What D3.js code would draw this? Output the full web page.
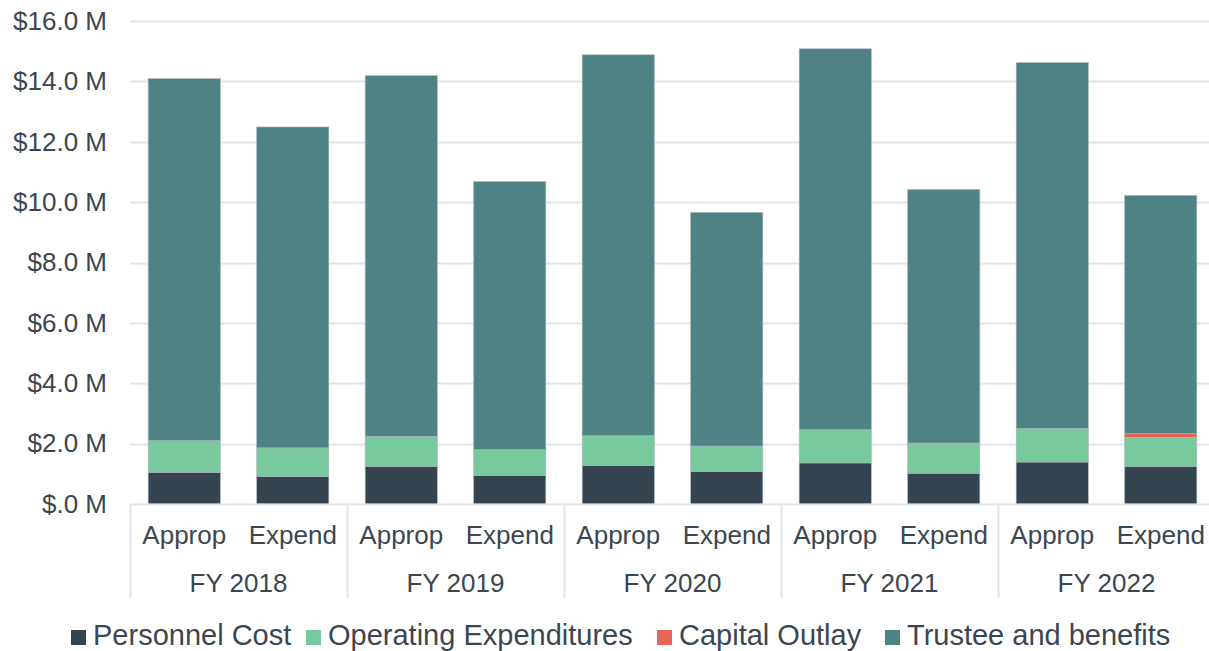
<!DOCTYPE html>
<html>
<head>
<meta charset="utf-8">
<script src="https://cdn.jsdelivr.net/npm/d3@7"></script>
<style>
  body { margin: 0; background: #ffffff; }
  svg { display: block; font-family: "Liberation Sans", Arial, sans-serif; }
</style>
</head>
<body>
<div id="chart"></div>
<script>
// Data (values in $ millions)
const years = ['FY 2018', 'FY 2019', 'FY 2020', 'FY 2021', 'FY 2022'];
const kinds = ['Approp', 'Expend'];
const seriesNames = ['Personnel Cost', 'Operating Expenditures', 'Capital Outlay', 'Trustee and benefits'];

// order: FY2018 Approp, FY2018 Expend, FY2019 Approp, ...
const personnel = [1.05, 0.91, 1.25, 0.95, 1.28, 1.08, 1.36, 1.02, 1.39, 1.25];
const operating = [1.05, 0.95, 0.97, 0.85, 0.98, 0.84, 1.10, 0.97, 1.11, 0.96];
const capital   = [0.00, 0.00, 0.02, 0.00, 0.00, 0.00, 0.00, 0.03, 0.00, 0.12];
const trustee   = [11.99, 10.63, 11.95, 8.88, 12.62, 7.74, 12.62, 8.40, 12.12, 7.89];

const yTicks = [0, 2, 4, 6, 8, 10, 12, 14, 16];

const colors = {
    'Personnel Cost': '#36444f',
    'Operating Expenditures': '#78c99d',
    'Capital Outlay': '#e8645a',
    'Trustee and benefits': '#4f8282'
};
const textColor = '#3b4651';
const gridColor = '#dfe5ea';

// build table
const rows = [];
years.forEach((yr, i) => {
    kinds.forEach((k, j) => {
        const idx = i * 2 + j;
        rows.push({
            year: yr,
            kind: k,
            'Personnel Cost': personnel[idx],
            'Operating Expenditures': operating[idx],
            'Capital Outlay': capital[idx],
            'Trustee and benefits': trustee[idx]
        });
    });
});

const width = 1209, height = 651;
const plot = { left: 130, right: 1215, top: 21, bottom: 504 };

const svg = d3.select('#chart').append('svg')
    .attr('width', width)
    .attr('height', height);

const x0 = d3.scaleBand()
    .domain(years)
    .range([plot.left, plot.right]);

const x1 = d3.scaleBand()
    .domain(kinds)
    .range([0, x0.bandwidth()])
    .paddingInner(0.335)
    .paddingOuter(0.1675);

const y = d3.scaleLinear()
    .domain([0, 16])
    .range([plot.bottom, plot.top]);

// grid lines
svg.append('g')
    .selectAll('line')
    .data(yTicks.filter(d => d > 0))
    .enter().append('line')
    .attr('x1', plot.left)
    .attr('x2', width)
    .attr('y1', d => Math.round(y(d)) + 0.5)
    .attr('y2', d => Math.round(y(d)) + 0.5)
    .style('stroke', gridColor)
    .style('stroke-width', 2);

// y axis labels
const yAxis = d3.axisLeft(y).tickValues(yTicks).tickSize(0).tickPadding(23)
    .tickFormat(d => d === 0 ? '$.0 M' : `$${d.toFixed(1)} M`);
const yAxisGroup = svg.append('g')
    .attr('transform', `translate(${plot.left},0)`)
    .call(yAxis);
yAxisGroup.select('.domain').remove();
yAxisGroup.selectAll('text')
    .style('fill', textColor)
    .style('font-size', '26px')
    .style('font-family', '"Liberation Sans", Arial, sans-serif');

// bars
const stack = d3.stack().keys(seriesNames);
const series = stack(rows);

svg.append('g')
    .selectAll('g')
    .data(series)
    .enter().append('g')
    .attr('fill', d => colors[d.key])
    .selectAll('rect')
    .data(d => d)
    .enter().append('rect')
    .attr('x', d => x0(d.data.year) + x1(d.data.kind))
    .attr('y', d => y(d[1]))
    .attr('height', d => Math.max(0, y(d[0]) - y(d[1])))
    .attr('width', x1.bandwidth())
    .style('stroke', '#a9b6bb')
    .style('stroke-width', 0.6);

// x axis: baseline and group separators
svg.append('line')
    .attr('x1', plot.left)
    .attr('x2', width)
    .attr('y1', plot.bottom + 0.5)
    .attr('y2', plot.bottom + 0.5)
    .style('stroke', gridColor)
    .style('stroke-width', 2);

svg.append('g')
    .selectAll('line')
    .data(years.concat(['end']))
    .enter().append('line')
    .attr('x1', d => (d === 'end' ? plot.right : x0(d)) + 0.5)
    .attr('x2', d => (d === 'end' ? plot.right : x0(d)) + 0.5)
    .attr('y1', plot.bottom)
    .attr('y2', 598)
    .style('stroke', gridColor)
    .style('stroke-width', 2);

// sub-category labels
svg.append('g')
    .selectAll('text')
    .data(rows)
    .enter().append('text')
    .attr('x', d => x0(d.year) + x1(d.kind) + x1.bandwidth() / 2)
    .attr('y', 544)
    .attr('text-anchor', 'middle')
    .style('fill', textColor)
    .style('font-size', '26px')
    .text(d => d.kind);

// year labels
svg.append('g')
    .selectAll('text')
    .data(years)
    .enter().append('text')
    .attr('x', d => x0(d) + x0.bandwidth() / 2)
    .attr('y', 592)
    .attr('text-anchor', 'middle')
    .style('fill', textColor)
    .style('font-size', '26px')
    .text(d => d);

// legend
const legendX = [71, 306, 657, 885];
const legend = svg.append('g')
    .selectAll('g')
    .data(seriesNames)
    .enter().append('g')
    .attr('transform', (d, i) => `translate(${legendX[i]},0)`);

legend.append('rect')
    .attr('x', 0)
    .attr('y', 630)
    .attr('width', 15)
    .attr('height', 15)
    .attr('fill', d => colors[d]);

legend.append('text')
    .attr('x', 22)
    .attr('y', 645)
    .style('fill', textColor)
    .style('font-size', '29px')
    .text(d => d);
</script>
</body>
</html>
